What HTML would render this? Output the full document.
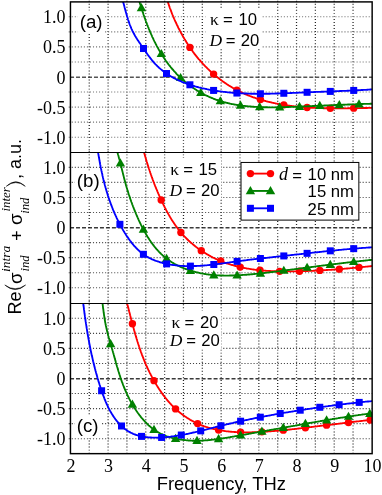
<!DOCTYPE html>
<html><head><meta charset="utf-8"><title>chart</title>
<style>html,body{margin:0;padding:0;background:#fff;}body{width:382px;height:495px;overflow:hidden;font-family:"Liberation Sans",sans-serif;}svg{display:block;will-change:transform;}</style>
</head><body>
<svg width="382" height="495" viewBox="0 0 382 495">
<rect width="382" height="495" fill="#fff"/>
<clipPath id="cpa"><rect x="70.45" y="1.9" width="301.7" height="150.6"/></clipPath>
<clipPath id="cpb"><rect x="70.45" y="152.5" width="301.7" height="151.0"/></clipPath>
<clipPath id="cpc"><rect x="70.45" y="303.5" width="301.7" height="150.14999999999998"/></clipPath>
<path d="M70.05 77.20H372.15" stroke="#555" stroke-width="1.5" stroke-dasharray="4 1.98" fill="none"/>
<path d="M70.05 227.75H372.15" stroke="#3a3a3a" stroke-width="1.5" stroke-dasharray="4 1.98" fill="none"/>
<path d="M70.05 378.70H372.15" stroke="#3a3a3a" stroke-width="1.5" stroke-dasharray="4 1.98" fill="none"/>
<path d="M89.24 0.76V152.50M108.09 0.76V152.50M126.93 0.76V152.50M145.78 0.76V152.50M164.62 0.76V152.50M183.46 0.76V152.50M202.31 0.76V152.50M221.15 0.76V152.50M239.99 0.76V152.50M258.84 0.76V152.50M277.68 0.76V152.50M296.52 0.76V152.50M315.37 0.76V152.50M334.21 0.76V152.50M353.06 0.76V152.50M89.24 151.36V303.50M108.09 151.36V303.50M126.93 151.36V303.50M145.78 151.36V303.50M164.62 151.36V303.50M183.46 151.36V303.50M202.31 151.36V303.50M221.15 151.36V303.50M239.99 151.36V303.50M258.84 151.36V303.50M277.68 151.36V303.50M296.52 151.36V303.50M315.37 151.36V303.50M334.21 151.36V303.50M353.06 151.36V303.50M89.24 301.16V453.65M108.09 301.16V453.65M126.93 301.16V453.65M145.78 301.16V453.65M164.62 301.16V453.65M183.46 301.16V453.65M202.31 301.16V453.65M221.15 301.16V453.65M239.99 301.16V453.65M258.84 301.16V453.65M277.68 301.16V453.65M296.52 301.16V453.65M315.37 301.16V453.65M334.21 301.16V453.65M353.06 301.16V453.65" stroke="#222" stroke-width="1.25" stroke-dasharray="0.95 2.08" fill="none"/>
<path d="M68.71 16.80H372.15M68.71 31.85H372.15M68.71 46.90H372.15M68.71 61.95H372.15M68.71 92.05H372.15M68.71 107.10H372.15M68.71 122.15H372.15M68.71 137.20H372.15" stroke="#777" stroke-width="1.1" stroke-dasharray="1.1 1.93" fill="none"/>
<path d="M68.71 167.35H372.15M68.71 182.40H372.15M68.71 197.45H372.15M68.71 212.50H372.15M68.71 242.60H372.15M68.71 257.65H372.15M68.71 272.70H372.15M68.71 287.75H372.15" stroke="#555" stroke-width="1.1" stroke-dasharray="1.1 1.93" fill="none"/>
<path d="M68.71 318.30H372.15M68.71 333.35H372.15M68.71 348.40H372.15M68.71 363.45H372.15M68.71 393.55H372.15M68.71 408.60H372.15M68.71 423.65H372.15M68.71 438.70H372.15" stroke="#444" stroke-width="1.1" stroke-dasharray="1.1 1.93" fill="none"/>
<rect x="77.9" y="10.5" width="26.299999999999997" height="23.200000000000003" fill="#fff"/>
<rect x="75" y="170.5" width="26.900000000000006" height="22.900000000000006" fill="#fff"/>
<rect x="75" y="415.3" width="26.099999999999994" height="22.80000000000001" fill="#fff"/>
<rect x="205.5" y="9" width="56.5" height="40" fill="#fff"/>
<rect x="166.3" y="158" width="54.89999999999998" height="41.5" fill="#fff"/>
<rect x="167" y="310.5" width="54.400000000000006" height="38.69999999999999" fill="#fff"/>
<g clip-path="url(#cpa)">
<path d="M167.7 1.5 L167.9 2.1 L168.1 2.7 L168.3 3.3 L168.5 3.9 L168.7 4.5 L168.9 5.1 L169.1 5.7 L169.3 6.3 L169.5 6.9 L169.7 7.5 L169.9 8.1 L170.1 8.6 L170.4 9.2 L170.6 9.8 L170.8 10.4 L171.0 11.0 L171.3 11.6 L171.5 12.2 L171.7 12.8 L171.9 13.4 L172.2 14.0 L172.4 14.5 L172.6 15.1 L172.9 15.7 L173.1 16.3 L173.4 16.9 L173.6 17.5 L173.9 18.1 L174.1 18.6 L174.4 19.2 L174.6 19.8 L174.9 20.4 L175.1 21.0 L175.4 21.5 L175.7 22.1 L175.9 22.7 L176.2 23.3 L176.5 23.8 L176.7 24.4 L177.0 25.0 L177.3 25.6 L177.6 26.1 L177.8 26.7 L178.1 27.3 L178.4 27.9 L178.7 28.4 L179.0 29.0 L179.3 29.6 L179.6 30.1 L179.9 30.7 L180.2 31.2 L180.5 31.8 L180.8 32.4 L181.1 32.9 L181.4 33.5 L181.7 34.1 L182.0 34.6 L182.3 35.2 L182.6 35.7 L182.9 36.3 L183.2 36.8 L183.6 37.4 L183.9 37.9 L184.2 38.5 L184.5 39.0 L184.9 39.6 L185.2 40.1 L185.5 40.7 L185.9 41.2 L186.2 41.7 L186.5 42.3 L186.9 42.8 L187.2 43.4 L187.6 43.9 L187.9 44.4 L188.3 45.0 L188.6 45.5 L189.0 46.0 L189.3 46.6 L189.7 47.1 L190.0 47.6 L190.4 48.1 L190.8 48.7 L191.1 49.2 L191.5 49.7 L191.9 50.2 L192.2 50.7 L192.6 51.2 L193.0 51.8 L193.4 52.3 L193.8 52.8 L194.1 53.3 L194.5 53.8 L194.9 54.3 L195.3 54.8 L195.7 55.3 L196.1 55.8 L196.5 56.3 L196.9 56.8 L197.3 57.3 L197.7 57.8 L198.1 58.3 L198.5 58.8 L198.9 59.3 L199.3 59.7 L199.8 60.2 L200.2 60.7 L200.6 61.2 L201.0 61.7 L201.4 62.1 L201.9 62.6 L202.3 63.1 L202.7 63.6 L203.2 64.0 L203.6 64.5 L204.0 65.0 L204.5 65.4 L204.9 65.9 L205.3 66.3 L205.8 66.8 L206.2 67.2 L206.7 67.7 L207.1 68.1 L207.6 68.6 L208.1 69.0 L208.5 69.5 L209.0 69.9 L209.4 70.3 L209.9 70.8 L210.4 71.2 L210.8 71.6 L211.3 72.1 L211.8 72.5 L212.2 72.9 L212.7 73.4 L213.2 73.8 L213.7 74.2 L214.2 74.6 L214.6 75.0 L215.1 75.4 L215.6 75.8 L216.1 76.2 L216.6 76.6 L217.1 77.0 L217.6 77.4 L218.1 77.8 L218.6 78.2 L219.1 78.6 L219.6 79.0 L220.1 79.4 L220.6 79.8 L221.1 80.1 L221.6 80.5 L222.1 80.9 L222.6 81.3 L223.2 81.6 L223.7 82.0 L224.2 82.4 L224.7 82.7 L225.2 83.1 L225.8 83.4 L226.3 83.8 L226.8 84.1 L227.3 84.5 L227.9 84.8 L228.4 85.2 L228.9 85.5 L229.5 85.9 L230.0 86.2 L230.6 86.5 L231.1 86.8 L231.6 87.2 L232.2 87.5 L232.7 87.8 L233.3 88.1 L233.8 88.4 L234.4 88.7 L234.9 89.0 L235.5 89.4 L236.0 89.7 L236.6 89.9 L237.1 90.2 L237.7 90.5 L238.3 90.8 L238.8 91.1 L239.4 91.4 L239.9 91.7 L240.5 91.9 L241.1 92.2 L241.7 92.5 L242.2 92.7 L242.8 93.0 L243.4 93.3 L243.9 93.5 L244.5 93.8 L245.1 94.0 L245.7 94.3 L246.3 94.5 L246.8 94.8 L247.4 95.0 L248.0 95.3 L248.6 95.5 L249.2 95.7 L249.8 96.0 L250.3 96.2 L250.9 96.4 L251.5 96.6 L252.1 96.8 L252.7 97.1 L253.3 97.3 L253.9 97.5 L254.5 97.7 L255.1 97.9 L255.7 98.1 L256.3 98.3 L256.9 98.5 L257.5 98.7 L258.1 98.9 L258.7 99.1 L259.3 99.3 L259.9 99.5 L260.5 99.6 L261.1 99.8 L261.7 100.0 L262.3 100.2 L262.9 100.3 L263.5 100.5 L264.2 100.7 L264.8 100.9 L265.4 101.0 L266.0 101.2 L266.6 101.3 L267.2 101.5 L267.8 101.6 L268.5 101.8 L269.1 101.9 L269.7 102.1 L270.3 102.2 L270.9 102.4 L271.6 102.5 L272.2 102.7 L272.8 102.8 L273.4 102.9 L274.0 103.1 L274.7 103.2 L275.3 103.3 L275.9 103.5 L276.5 103.6 L277.2 103.7 L277.8 103.8 L278.4 103.9 L279.0 104.1 L279.7 104.2 L280.3 104.3 L280.9 104.4 L281.6 104.5 L282.2 104.6 L282.8 104.7 L283.5 104.8 L284.1 104.9 L284.7 105.0 L285.4 105.1 L286.0 105.2 L286.6 105.3 L287.3 105.4 L287.9 105.5 L288.5 105.6 L289.2 105.7 L289.8 105.7 L290.4 105.8 L291.1 105.9 L291.7 106.0 L292.3 106.1 L293.0 106.1 L293.6 106.2 L294.2 106.3 L294.9 106.4 L295.5 106.4 L296.1 106.5 L296.8 106.6 L297.4 106.6 L298.1 106.7 L298.7 106.8 L299.3 106.8 L300.0 106.9 L300.6 106.9 L301.2 107.0 L301.9 107.0 L302.5 107.1 L303.2 107.2 L303.8 107.2 L304.4 107.3 L305.1 107.3 L305.7 107.3 L306.3 107.4 L307.0 107.4 L307.6 107.5 L308.3 107.5 L308.9 107.6 L309.5 107.6 L310.2 107.6 L310.8 107.7 L311.4 107.7 L312.1 107.7 L312.7 107.8 L313.3 107.8 L314.0 107.8 L314.6 107.9 L315.3 107.9 L315.9 107.9 L316.5 108.0 L317.2 108.0 L317.8 108.0 L318.4 108.0 L319.1 108.0 L319.7 108.1 L320.3 108.1 L321.0 108.1 L321.6 108.1 L322.2 108.1 L322.9 108.2 L323.5 108.2 L324.2 108.2 L324.8 108.2 L325.4 108.2 L326.1 108.2 L326.7 108.2 L327.3 108.2 L328.0 108.3 L328.6 108.3 L329.2 108.3 L329.9 108.3 L330.5 108.3 L331.1 108.3 L331.8 108.3 L332.4 108.3 L333.0 108.3 L333.7 108.3 L334.3 108.3 L334.9 108.3 L335.6 108.3 L336.2 108.3 L336.8 108.3 L337.5 108.3 L338.1 108.3 L338.7 108.3 L339.4 108.3 L340.0 108.3 L340.6 108.3 L341.3 108.3 L341.9 108.3 L342.5 108.3 L343.2 108.3 L343.8 108.3 L344.4 108.3 L345.1 108.3 L345.7 108.3 L346.3 108.3 L347.0 108.3 L347.6 108.3 L348.2 108.2 L348.9 108.2 L349.5 108.2 L350.1 108.2 L350.8 108.2 L351.4 108.2 L352.0 108.2 L352.7 108.2 L353.3 108.2 L353.9 108.2 L354.6 108.2 L355.2 108.1 L355.8 108.1 L356.5 108.1 L357.1 108.1 L357.7 108.1 L358.4 108.1 L359.0 108.1 L359.6 108.1 L360.2 108.1 L360.9 108.1 L361.5 108.0 L362.1 108.0 L362.8 108.0 L363.4 108.0 L364.0 108.0 L364.7 108.0 L365.3 108.0 L365.9 108.0 L366.6 108.0 L367.2 108.0 L367.8 107.9 L368.5 107.9 L369.1 107.9 L369.7 107.9 L370.4 107.9 L371.0 107.9 L371.6 107.9 L372.3 107.9" stroke="#ff0000" stroke-width="1.85" fill="none" stroke-linejoin="round"/>
<circle cx="189.90" cy="47.40" r="3.7" fill="#ff0000"/>
<circle cx="213.60" cy="74.12" r="3.7" fill="#ff0000"/>
<circle cx="236.90" cy="90.12" r="3.7" fill="#ff0000"/>
<circle cx="260.40" cy="99.61" r="3.7" fill="#ff0000"/>
<circle cx="283.80" cy="104.87" r="3.7" fill="#ff0000"/>
<circle cx="307.10" cy="107.44" r="3.7" fill="#ff0000"/>
<circle cx="330.30" cy="108.29" r="3.7" fill="#ff0000"/>
<circle cx="353.70" cy="108.17" r="3.7" fill="#ff0000"/>
<path d="M139.4 1.5 L139.6 2.2 L139.8 2.9 L140.0 3.6 L140.2 4.2 L140.5 4.9 L140.7 5.6 L140.9 6.3 L141.1 6.9 L141.3 7.6 L141.5 8.3 L141.7 9.0 L141.9 9.7 L142.2 10.3 L142.4 11.0 L142.6 11.7 L142.8 12.4 L143.1 13.0 L143.3 13.7 L143.5 14.4 L143.7 15.1 L144.0 15.8 L144.2 16.4 L144.4 17.1 L144.7 17.8 L144.9 18.5 L145.2 19.1 L145.4 19.8 L145.6 20.5 L145.9 21.2 L146.1 21.8 L146.4 22.5 L146.6 23.2 L146.9 23.9 L147.1 24.5 L147.4 25.2 L147.7 25.9 L147.9 26.5 L148.2 27.2 L148.5 27.9 L148.7 28.5 L149.0 29.2 L149.3 29.9 L149.6 30.5 L149.8 31.2 L150.1 31.9 L150.4 32.5 L150.7 33.2 L151.0 33.9 L151.3 34.5 L151.6 35.2 L151.9 35.8 L152.1 36.5 L152.4 37.2 L152.8 37.8 L153.1 38.5 L153.4 39.1 L153.7 39.8 L154.0 40.4 L154.3 41.1 L154.6 41.7 L155.0 42.4 L155.3 43.0 L155.6 43.7 L155.9 44.3 L156.3 44.9 L156.6 45.6 L156.9 46.2 L157.3 46.8 L157.6 47.5 L158.0 48.1 L158.3 48.7 L158.7 49.4 L159.0 50.0 L159.4 50.6 L159.8 51.3 L160.1 51.9 L160.5 52.5 L160.9 53.1 L161.3 53.7 L161.6 54.3 L162.0 55.0 L162.4 55.6 L162.8 56.2 L163.2 56.8 L163.6 57.4 L164.0 58.0 L164.4 58.6 L164.8 59.2 L165.2 59.8 L165.6 60.4 L166.0 61.0 L166.5 61.6 L166.9 62.1 L167.3 62.7 L167.7 63.3 L168.2 63.9 L168.6 64.5 L169.0 65.0 L169.5 65.6 L169.9 66.2 L170.4 66.7 L170.8 67.3 L171.3 67.8 L171.8 68.4 L172.2 69.0 L172.7 69.5 L173.2 70.0 L173.6 70.6 L174.1 71.1 L174.6 71.7 L175.1 72.2 L175.6 72.7 L176.1 73.3 L176.5 73.8 L177.0 74.3 L177.5 74.8 L178.0 75.3 L178.6 75.8 L179.1 76.3 L179.6 76.8 L180.1 77.3 L180.6 77.8 L181.1 78.3 L181.7 78.8 L182.2 79.3 L182.7 79.8 L183.3 80.3 L183.8 80.7 L184.4 81.2 L184.9 81.7 L185.5 82.1 L186.0 82.6 L186.6 83.0 L187.1 83.5 L187.7 83.9 L188.3 84.4 L188.8 84.8 L189.4 85.2 L190.0 85.6 L190.6 86.1 L191.1 86.5 L191.7 86.9 L192.3 87.3 L192.9 87.7 L193.5 88.1 L194.1 88.5 L194.7 88.9 L195.3 89.3 L195.9 89.7 L196.5 90.1 L197.1 90.5 L197.7 90.8 L198.3 91.2 L198.9 91.6 L199.6 91.9 L200.2 92.3 L200.8 92.6 L201.4 93.0 L202.1 93.3 L202.7 93.7 L203.3 94.0 L204.0 94.3 L204.6 94.7 L205.2 95.0 L205.9 95.3 L206.5 95.6 L207.2 95.9 L207.8 96.2 L208.5 96.5 L209.1 96.8 L209.8 97.1 L210.4 97.4 L211.1 97.7 L211.7 98.0 L212.4 98.2 L213.1 98.5 L213.7 98.8 L214.4 99.0 L215.1 99.3 L215.7 99.5 L216.4 99.8 L217.1 100.0 L217.8 100.2 L218.4 100.5 L219.1 100.7 L219.8 100.9 L220.5 101.1 L221.2 101.3 L221.8 101.5 L222.5 101.7 L223.2 101.9 L223.9 102.1 L224.6 102.3 L225.3 102.5 L226.0 102.7 L226.7 102.9 L227.4 103.0 L228.1 103.2 L228.8 103.4 L229.5 103.5 L230.2 103.7 L230.9 103.8 L231.6 104.0 L232.3 104.1 L233.0 104.2 L233.7 104.4 L234.4 104.5 L235.1 104.6 L235.8 104.7 L236.5 104.9 L237.2 105.0 L237.9 105.1 L238.6 105.2 L239.4 105.3 L240.1 105.4 L240.8 105.5 L241.5 105.6 L242.2 105.7 L242.9 105.8 L243.6 105.9 L244.4 105.9 L245.1 106.0 L245.8 106.1 L246.5 106.2 L247.2 106.2 L248.0 106.3 L248.7 106.4 L249.4 106.4 L250.1 106.5 L250.8 106.5 L251.6 106.6 L252.3 106.7 L253.0 106.7 L253.7 106.7 L254.4 106.8 L255.2 106.8 L255.9 106.9 L256.6 106.9 L257.3 106.9 L258.1 107.0 L258.8 107.0 L259.5 107.0 L260.2 107.1 L260.9 107.1 L261.7 107.1 L262.4 107.1 L263.1 107.2 L263.8 107.2 L264.6 107.2 L265.3 107.2 L266.0 107.2 L266.7 107.2 L267.4 107.2 L268.2 107.3 L268.9 107.3 L269.6 107.3 L270.3 107.3 L271.1 107.3 L271.8 107.3 L272.5 107.3 L273.2 107.3 L273.9 107.3 L274.7 107.3 L275.4 107.3 L276.1 107.3 L276.8 107.2 L277.5 107.2 L278.3 107.2 L279.0 107.2 L279.7 107.2 L280.4 107.2 L281.1 107.2 L281.9 107.2 L282.6 107.1 L283.3 107.1 L284.0 107.1 L284.7 107.1 L285.5 107.1 L286.2 107.1 L286.9 107.0 L287.6 107.0 L288.3 107.0 L289.1 107.0 L289.8 106.9 L290.5 106.9 L291.2 106.9 L291.9 106.9 L292.7 106.8 L293.4 106.8 L294.1 106.8 L294.8 106.8 L295.5 106.7 L296.3 106.7 L297.0 106.7 L297.7 106.7 L298.4 106.6 L299.1 106.6 L299.8 106.6 L300.6 106.5 L301.3 106.5 L302.0 106.5 L302.7 106.5 L303.4 106.4 L304.1 106.4 L304.9 106.4 L305.6 106.3 L306.3 106.3 L307.0 106.3 L307.7 106.2 L308.4 106.2 L309.2 106.2 L309.9 106.2 L310.6 106.1 L311.3 106.1 L312.0 106.1 L312.7 106.0 L313.5 106.0 L314.2 106.0 L314.9 105.9 L315.6 105.9 L316.3 105.9 L317.0 105.9 L317.8 105.8 L318.5 105.8 L319.2 105.8 L319.9 105.7 L320.6 105.7 L321.3 105.7 L322.1 105.6 L322.8 105.6 L323.5 105.6 L324.2 105.5 L324.9 105.5 L325.6 105.5 L326.4 105.4 L327.1 105.4 L327.8 105.4 L328.5 105.4 L329.2 105.3 L329.9 105.3 L330.7 105.3 L331.4 105.2 L332.1 105.2 L332.8 105.2 L333.5 105.1 L334.2 105.1 L334.9 105.1 L335.7 105.0 L336.4 105.0 L337.1 105.0 L337.8 105.0 L338.5 104.9 L339.2 104.9 L340.0 104.9 L340.7 104.8 L341.4 104.8 L342.1 104.8 L342.8 104.7 L343.5 104.7 L344.3 104.7 L345.0 104.7 L345.7 104.6 L346.4 104.6 L347.1 104.6 L347.9 104.5 L348.6 104.5 L349.3 104.5 L350.0 104.5 L350.7 104.4 L351.4 104.4 L352.2 104.4 L352.9 104.3 L353.6 104.3 L354.3 104.3 L355.0 104.3 L355.8 104.2 L356.5 104.2 L357.2 104.2 L357.9 104.2 L358.6 104.1 L359.3 104.1 L360.1 104.1 L360.8 104.0 L361.5 104.0 L362.2 104.0 L362.9 104.0 L363.7 103.9 L364.4 103.9 L365.1 103.9 L365.8 103.9 L366.5 103.8 L367.3 103.8 L368.0 103.8 L368.7 103.8 L369.4 103.8 L370.2 103.7 L370.9 103.7 L371.6 103.7 L372.3 103.7" stroke="#008000" stroke-width="1.85" fill="none" stroke-linejoin="round"/>
<path d="M141.40 3.05L146.10 11.25H136.70Z" fill="#008000"/>
<path d="M161.30 48.90L166.00 57.10H156.60Z" fill="#008000"/>
<path d="M180.60 72.92L185.30 81.12H175.90Z" fill="#008000"/>
<path d="M200.80 87.74L205.50 95.94H196.10Z" fill="#008000"/>
<path d="M220.30 96.17L225.00 104.37H215.60Z" fill="#008000"/>
<path d="M240.50 100.56L245.20 108.76H235.80Z" fill="#008000"/>
<path d="M259.70 102.15L264.40 110.35H255.00Z" fill="#008000"/>
<path d="M279.60 102.31L284.30 110.51H274.90Z" fill="#008000"/>
<path d="M299.50 101.68L304.20 109.88H294.80Z" fill="#008000"/>
<path d="M319.80 100.83L324.50 109.03H315.10Z" fill="#008000"/>
<path d="M339.30 99.99L344.00 108.19H334.60Z" fill="#008000"/>
<path d="M359.00 99.21L363.70 107.41H354.30Z" fill="#008000"/>
<path d="M123.0 1.5 L123.2 2.2 L123.4 2.9 L123.6 3.6 L123.8 4.3 L124.0 5.0 L124.2 5.7 L124.4 6.5 L124.6 7.2 L124.7 7.9 L124.9 8.6 L125.1 9.3 L125.3 10.0 L125.5 10.8 L125.7 11.5 L125.9 12.2 L126.1 12.9 L126.3 13.6 L126.5 14.3 L126.7 15.1 L126.9 15.8 L127.1 16.5 L127.4 17.2 L127.6 17.9 L127.8 18.6 L128.0 19.4 L128.2 20.1 L128.5 20.8 L128.7 21.5 L128.9 22.2 L129.2 22.9 L129.4 23.6 L129.7 24.3 L129.9 25.0 L130.2 25.7 L130.5 26.3 L130.8 27.0 L131.0 27.7 L131.3 28.4 L131.6 29.1 L131.9 29.7 L132.2 30.4 L132.5 31.0 L132.9 31.7 L133.2 32.3 L133.5 33.0 L133.9 33.6 L134.2 34.3 L134.6 34.9 L134.9 35.5 L135.3 36.2 L135.7 36.8 L136.0 37.4 L136.4 38.0 L136.8 38.6 L137.2 39.3 L137.6 39.9 L138.0 40.5 L138.4 41.1 L138.8 41.7 L139.2 42.3 L139.6 42.9 L140.1 43.5 L140.5 44.1 L140.9 44.8 L141.3 45.4 L141.7 46.0 L142.2 46.6 L142.6 47.2 L143.0 47.8 L143.5 48.4 L143.9 49.1 L144.3 49.7 L144.7 50.3 L145.2 50.9 L145.6 51.6 L146.0 52.2 L146.5 52.8 L146.9 53.4 L147.3 54.0 L147.8 54.7 L148.2 55.3 L148.7 55.9 L149.1 56.5 L149.6 57.1 L150.0 57.7 L150.5 58.3 L151.0 58.9 L151.4 59.5 L151.9 60.1 L152.4 60.7 L152.9 61.3 L153.3 61.8 L153.8 62.4 L154.3 63.0 L154.8 63.5 L155.3 64.1 L155.9 64.6 L156.4 65.1 L156.9 65.6 L157.4 66.2 L158.0 66.7 L158.5 67.2 L159.0 67.7 L159.6 68.2 L160.1 68.6 L160.7 69.1 L161.3 69.6 L161.8 70.0 L162.4 70.5 L163.0 71.0 L163.6 71.4 L164.1 71.8 L164.7 72.3 L165.3 72.7 L165.9 73.1 L166.5 73.5 L167.1 73.9 L167.7 74.3 L168.3 74.7 L168.9 75.1 L169.6 75.5 L170.2 75.9 L170.8 76.3 L171.4 76.6 L172.1 77.0 L172.7 77.4 L173.3 77.7 L174.0 78.1 L174.6 78.4 L175.3 78.7 L175.9 79.1 L176.6 79.4 L177.2 79.7 L177.9 80.0 L178.6 80.3 L179.2 80.6 L179.9 80.9 L180.6 81.2 L181.3 81.5 L181.9 81.8 L182.6 82.1 L183.3 82.4 L184.0 82.7 L184.7 82.9 L185.4 83.2 L186.1 83.4 L186.7 83.7 L187.4 83.9 L188.1 84.2 L188.8 84.4 L189.5 84.7 L190.3 84.9 L191.0 85.1 L191.7 85.4 L192.4 85.6 L193.1 85.8 L193.8 86.0 L194.5 86.2 L195.2 86.4 L196.0 86.6 L196.7 86.8 L197.4 87.0 L198.1 87.2 L198.8 87.4 L199.6 87.6 L200.3 87.7 L201.0 87.9 L201.7 88.1 L202.5 88.3 L203.2 88.4 L203.9 88.6 L204.7 88.7 L205.4 88.9 L206.1 89.0 L206.9 89.2 L207.6 89.3 L208.3 89.5 L209.1 89.6 L209.8 89.8 L210.5 89.9 L211.3 90.0 L212.0 90.2 L212.7 90.3 L213.5 90.4 L214.2 90.5 L215.0 90.6 L215.7 90.8 L216.4 90.9 L217.2 91.0 L217.9 91.1 L218.6 91.2 L219.4 91.3 L220.1 91.4 L220.9 91.5 L221.6 91.6 L222.3 91.7 L223.1 91.8 L223.8 91.9 L224.5 91.9 L225.3 92.0 L226.0 92.1 L226.7 92.2 L227.5 92.3 L228.2 92.3 L229.0 92.4 L229.7 92.5 L230.4 92.5 L231.2 92.6 L231.9 92.7 L232.6 92.7 L233.4 92.8 L234.1 92.9 L234.9 92.9 L235.6 93.0 L236.3 93.0 L237.1 93.1 L237.8 93.1 L238.5 93.2 L239.3 93.2 L240.0 93.2 L240.8 93.3 L241.5 93.3 L242.2 93.4 L243.0 93.4 L243.7 93.4 L244.4 93.5 L245.2 93.5 L245.9 93.5 L246.7 93.5 L247.4 93.6 L248.1 93.6 L248.9 93.6 L249.6 93.6 L250.4 93.7 L251.1 93.7 L251.8 93.7 L252.6 93.7 L253.3 93.7 L254.0 93.7 L254.8 93.7 L255.5 93.7 L256.3 93.8 L257.0 93.8 L257.7 93.8 L258.5 93.8 L259.2 93.8 L259.9 93.8 L260.7 93.8 L261.4 93.8 L262.2 93.8 L262.9 93.8 L263.6 93.8 L264.4 93.7 L265.1 93.7 L265.9 93.7 L266.6 93.7 L267.3 93.7 L268.1 93.7 L268.8 93.7 L269.5 93.7 L270.3 93.7 L271.0 93.6 L271.8 93.6 L272.5 93.6 L273.2 93.6 L274.0 93.6 L274.7 93.6 L275.5 93.5 L276.2 93.5 L276.9 93.5 L277.7 93.5 L278.4 93.5 L279.2 93.4 L279.9 93.4 L280.6 93.4 L281.4 93.4 L282.1 93.3 L282.8 93.3 L283.6 93.3 L284.3 93.3 L285.1 93.2 L285.8 93.2 L286.5 93.2 L287.3 93.1 L288.0 93.1 L288.8 93.1 L289.5 93.1 L290.2 93.0 L291.0 93.0 L291.7 93.0 L292.5 92.9 L293.2 92.9 L293.9 92.9 L294.7 92.8 L295.4 92.8 L296.2 92.8 L296.9 92.7 L297.6 92.7 L298.4 92.7 L299.1 92.6 L299.9 92.6 L300.6 92.6 L301.3 92.6 L302.1 92.5 L302.8 92.5 L303.5 92.5 L304.3 92.4 L305.0 92.4 L305.8 92.4 L306.5 92.3 L307.2 92.3 L308.0 92.3 L308.7 92.2 L309.5 92.2 L310.2 92.2 L310.9 92.1 L311.7 92.1 L312.4 92.1 L313.2 92.1 L313.9 92.0 L314.6 92.0 L315.4 92.0 L316.1 91.9 L316.9 91.9 L317.6 91.9 L318.3 91.9 L319.1 91.8 L319.8 91.8 L320.6 91.8 L321.3 91.7 L322.0 91.7 L322.8 91.7 L323.5 91.7 L324.3 91.6 L325.0 91.6 L325.7 91.6 L326.5 91.6 L327.2 91.5 L328.0 91.5 L328.7 91.5 L329.4 91.4 L330.2 91.4 L330.9 91.4 L331.7 91.4 L332.4 91.3 L333.1 91.3 L333.9 91.3 L334.6 91.2 L335.4 91.2 L336.1 91.2 L336.8 91.2 L337.6 91.1 L338.3 91.1 L339.1 91.1 L339.8 91.0 L340.5 91.0 L341.3 91.0 L342.0 90.9 L342.8 90.9 L343.5 90.9 L344.2 90.9 L345.0 90.8 L345.7 90.8 L346.5 90.8 L347.2 90.7 L347.9 90.7 L348.7 90.7 L349.4 90.6 L350.1 90.6 L350.9 90.6 L351.6 90.5 L352.4 90.5 L353.1 90.5 L353.8 90.4 L354.6 90.4 L355.3 90.3 L356.1 90.3 L356.8 90.3 L357.5 90.2 L358.3 90.2 L359.0 90.2 L359.8 90.1 L360.5 90.1 L361.2 90.0 L362.0 90.0 L362.7 90.0 L363.4 89.9 L364.2 89.9 L364.9 89.8 L365.7 89.8 L366.4 89.8 L367.1 89.7 L367.9 89.7 L368.6 89.6 L369.3 89.6 L370.1 89.5 L370.8 89.5 L371.6 89.4 L372.3 89.4" stroke="#0000ff" stroke-width="1.85" fill="none" stroke-linejoin="round"/>
<rect x="140.00" y="45.01" width="7" height="7" fill="#0000ff"/>
<rect x="163.00" y="70.02" width="7" height="7" fill="#0000ff"/>
<rect x="186.40" y="81.28" width="7" height="7" fill="#0000ff"/>
<rect x="210.10" y="86.92" width="7" height="7" fill="#0000ff"/>
<rect x="233.40" y="89.55" width="7" height="7" fill="#0000ff"/>
<rect x="256.90" y="90.27" width="7" height="7" fill="#0000ff"/>
<rect x="280.30" y="89.77" width="7" height="7" fill="#0000ff"/>
<rect x="303.60" y="88.80" width="7" height="7" fill="#0000ff"/>
<rect x="326.80" y="87.91" width="7" height="7" fill="#0000ff"/>
<rect x="350.20" y="86.93" width="7" height="7" fill="#0000ff"/>
</g>
<g clip-path="url(#cpb)">
<path d="M144.0 152.2 L144.2 152.9 L144.4 153.6 L144.6 154.3 L144.8 155.0 L145.0 155.7 L145.2 156.4 L145.4 157.1 L145.6 157.8 L145.8 158.5 L146.0 159.2 L146.2 159.9 L146.4 160.6 L146.6 161.3 L146.8 162.0 L147.1 162.7 L147.3 163.4 L147.5 164.1 L147.7 164.8 L147.9 165.5 L148.1 166.2 L148.4 166.9 L148.6 167.6 L148.8 168.3 L149.0 169.0 L149.3 169.7 L149.5 170.3 L149.7 171.0 L150.0 171.7 L150.2 172.4 L150.4 173.1 L150.7 173.8 L150.9 174.5 L151.2 175.2 L151.4 175.9 L151.6 176.6 L151.9 177.2 L152.1 177.9 L152.4 178.6 L152.6 179.3 L152.9 180.0 L153.1 180.7 L153.4 181.4 L153.6 182.0 L153.9 182.7 L154.2 183.4 L154.4 184.1 L154.7 184.8 L155.0 185.5 L155.2 186.1 L155.5 186.8 L155.8 187.5 L156.0 188.2 L156.3 188.8 L156.6 189.5 L156.9 190.2 L157.2 190.9 L157.4 191.5 L157.7 192.2 L158.0 192.9 L158.3 193.6 L158.6 194.2 L158.9 194.9 L159.2 195.6 L159.5 196.2 L159.8 196.9 L160.1 197.6 L160.4 198.2 L160.7 198.9 L161.0 199.5 L161.3 200.2 L161.6 200.9 L161.9 201.5 L162.2 202.2 L162.6 202.8 L162.9 203.5 L163.2 204.2 L163.5 204.8 L163.8 205.5 L164.2 206.1 L164.5 206.8 L164.8 207.4 L165.2 208.1 L165.5 208.7 L165.8 209.4 L166.2 210.0 L166.5 210.7 L166.9 211.3 L167.2 211.9 L167.6 212.6 L167.9 213.2 L168.3 213.9 L168.7 214.5 L169.0 215.1 L169.4 215.8 L169.7 216.4 L170.1 217.0 L170.5 217.7 L170.9 218.3 L171.2 218.9 L171.6 219.5 L172.0 220.2 L172.4 220.8 L172.8 221.4 L173.2 222.0 L173.6 222.6 L174.0 223.2 L174.4 223.8 L174.8 224.4 L175.2 225.0 L175.6 225.6 L176.1 226.2 L176.5 226.8 L176.9 227.4 L177.4 228.0 L177.8 228.6 L178.2 229.2 L178.7 229.7 L179.1 230.3 L179.6 230.9 L180.1 231.4 L180.5 232.0 L181.0 232.6 L181.5 233.1 L181.9 233.7 L182.4 234.2 L182.9 234.8 L183.4 235.3 L183.9 235.8 L184.4 236.4 L184.9 236.9 L185.4 237.4 L185.9 237.9 L186.4 238.5 L187.0 239.0 L187.5 239.5 L188.0 240.0 L188.5 240.5 L189.1 241.0 L189.6 241.5 L190.2 242.0 L190.7 242.5 L191.3 242.9 L191.8 243.4 L192.4 243.9 L192.9 244.4 L193.5 244.8 L194.1 245.3 L194.6 245.8 L195.2 246.2 L195.8 246.7 L196.4 247.1 L197.0 247.6 L197.5 248.0 L198.1 248.4 L198.7 248.9 L199.3 249.3 L199.9 249.7 L200.5 250.1 L201.1 250.5 L201.7 250.9 L202.4 251.4 L203.0 251.8 L203.6 252.2 L204.2 252.5 L204.8 252.9 L205.5 253.3 L206.1 253.7 L206.7 254.1 L207.3 254.4 L208.0 254.8 L208.6 255.2 L209.3 255.5 L209.9 255.9 L210.5 256.2 L211.2 256.6 L211.8 256.9 L212.5 257.3 L213.1 257.6 L213.8 257.9 L214.5 258.2 L215.1 258.6 L215.8 258.9 L216.4 259.2 L217.1 259.5 L217.8 259.8 L218.4 260.1 L219.1 260.4 L219.8 260.6 L220.4 260.9 L221.1 261.2 L221.8 261.5 L222.5 261.7 L223.1 262.0 L223.8 262.3 L224.5 262.5 L225.2 262.8 L225.9 263.0 L226.6 263.3 L227.2 263.5 L227.9 263.7 L228.6 263.9 L229.3 264.2 L230.0 264.4 L230.7 264.6 L231.4 264.8 L232.1 265.0 L232.8 265.2 L233.5 265.4 L234.2 265.6 L234.9 265.8 L235.6 266.0 L236.3 266.2 L237.0 266.4 L237.7 266.5 L238.4 266.7 L239.1 266.9 L239.8 267.0 L240.5 267.2 L241.2 267.3 L241.9 267.5 L242.6 267.6 L243.3 267.8 L244.1 267.9 L244.8 268.1 L245.5 268.2 L246.2 268.3 L246.9 268.5 L247.6 268.6 L248.4 268.7 L249.1 268.8 L249.8 268.9 L250.5 269.1 L251.2 269.2 L252.0 269.3 L252.7 269.4 L253.4 269.5 L254.1 269.6 L254.8 269.7 L255.6 269.8 L256.3 269.8 L257.0 269.9 L257.8 270.0 L258.5 270.1 L259.2 270.2 L259.9 270.2 L260.7 270.3 L261.4 270.4 L262.1 270.5 L262.9 270.5 L263.6 270.6 L264.3 270.6 L265.1 270.7 L265.8 270.7 L266.5 270.8 L267.2 270.8 L268.0 270.9 L268.7 270.9 L269.4 271.0 L270.2 271.0 L270.9 271.1 L271.7 271.1 L272.4 271.1 L273.1 271.2 L273.9 271.2 L274.6 271.2 L275.3 271.2 L276.1 271.3 L276.8 271.3 L277.5 271.3 L278.3 271.3 L279.0 271.3 L279.7 271.4 L280.5 271.4 L281.2 271.4 L282.0 271.4 L282.7 271.4 L283.4 271.4 L284.2 271.4 L284.9 271.4 L285.6 271.4 L286.4 271.4 L287.1 271.4 L287.9 271.4 L288.6 271.4 L289.3 271.4 L290.1 271.4 L290.8 271.4 L291.5 271.4 L292.3 271.4 L293.0 271.4 L293.7 271.4 L294.5 271.3 L295.2 271.3 L295.9 271.3 L296.7 271.3 L297.4 271.3 L298.1 271.3 L298.9 271.2 L299.6 271.2 L300.3 271.2 L301.1 271.2 L301.8 271.2 L302.5 271.1 L303.3 271.1 L304.0 271.1 L304.7 271.1 L305.5 271.0 L306.2 271.0 L306.9 271.0 L307.6 271.0 L308.4 270.9 L309.1 270.9 L309.8 270.9 L310.5 270.9 L311.3 270.8 L312.0 270.8 L312.7 270.8 L313.5 270.7 L314.2 270.7 L314.9 270.7 L315.6 270.6 L316.4 270.6 L317.1 270.6 L317.8 270.5 L318.5 270.5 L319.3 270.4 L320.0 270.4 L320.7 270.4 L321.4 270.3 L322.2 270.3 L322.9 270.2 L323.6 270.2 L324.3 270.2 L325.1 270.1 L325.8 270.1 L326.5 270.0 L327.2 270.0 L328.0 269.9 L328.7 269.9 L329.4 269.8 L330.1 269.8 L330.8 269.8 L331.6 269.7 L332.3 269.7 L333.0 269.6 L333.7 269.6 L334.5 269.5 L335.2 269.4 L335.9 269.4 L336.6 269.3 L337.4 269.3 L338.1 269.2 L338.8 269.2 L339.5 269.1 L340.3 269.1 L341.0 269.0 L341.7 268.9 L342.4 268.9 L343.2 268.8 L343.9 268.8 L344.6 268.7 L345.3 268.6 L346.0 268.6 L346.8 268.5 L347.5 268.5 L348.2 268.4 L349.0 268.3 L349.7 268.3 L350.4 268.2 L351.1 268.1 L351.9 268.1 L352.6 268.0 L353.3 267.9 L354.0 267.9 L354.8 267.8 L355.5 267.7 L356.2 267.7 L357.0 267.6 L357.7 267.5 L358.4 267.5 L359.1 267.4 L359.9 267.3 L360.6 267.2 L361.3 267.2 L362.1 267.1 L362.8 267.0 L363.5 266.9 L364.3 266.9 L365.0 266.8 L365.7 266.7 L366.5 266.6 L367.2 266.6 L367.9 266.5 L368.7 266.4 L369.4 266.3 L370.1 266.2 L370.9 266.2 L371.6 266.1 L372.3 266.0" stroke="#ff0000" stroke-width="1.85" fill="none" stroke-linejoin="round"/>
<circle cx="161.20" cy="200.00" r="3.7" fill="#ff0000"/>
<circle cx="180.90" cy="232.46" r="3.7" fill="#ff0000"/>
<circle cx="201.30" cy="250.65" r="3.7" fill="#ff0000"/>
<circle cx="220.70" cy="261.03" r="3.7" fill="#ff0000"/>
<circle cx="240.20" cy="267.12" r="3.7" fill="#ff0000"/>
<circle cx="260.00" cy="270.25" r="3.7" fill="#ff0000"/>
<circle cx="279.60" cy="271.35" r="3.7" fill="#ff0000"/>
<circle cx="299.50" cy="271.23" r="3.7" fill="#ff0000"/>
<circle cx="319.80" cy="270.42" r="3.7" fill="#ff0000"/>
<circle cx="339.30" cy="269.14" r="3.7" fill="#ff0000"/>
<circle cx="359.00" cy="267.39" r="3.7" fill="#ff0000"/>
<path d="M117.3 152.1 L117.6 152.9 L117.8 153.7 L118.0 154.5 L118.3 155.3 L118.5 156.1 L118.7 156.9 L118.9 157.7 L119.1 158.5 L119.4 159.3 L119.6 160.1 L119.8 160.9 L120.0 161.7 L120.2 162.5 L120.4 163.3 L120.6 164.1 L120.8 164.9 L121.0 165.7 L121.2 166.5 L121.4 167.3 L121.6 168.1 L121.8 168.9 L122.0 169.7 L122.2 170.5 L122.4 171.3 L122.6 172.1 L122.8 172.9 L123.0 173.7 L123.2 174.5 L123.4 175.3 L123.6 176.1 L123.8 176.9 L124.0 177.7 L124.2 178.5 L124.4 179.3 L124.6 180.1 L124.8 180.9 L125.1 181.7 L125.3 182.5 L125.5 183.3 L125.7 184.1 L125.9 184.9 L126.1 185.7 L126.4 186.5 L126.6 187.2 L126.8 188.0 L127.1 188.8 L127.3 189.6 L127.5 190.4 L127.8 191.1 L128.0 191.9 L128.3 192.7 L128.5 193.5 L128.8 194.2 L129.0 195.0 L129.3 195.8 L129.5 196.6 L129.8 197.3 L130.0 198.1 L130.3 198.9 L130.6 199.6 L130.8 200.4 L131.1 201.2 L131.4 202.0 L131.7 202.7 L132.0 203.5 L132.2 204.3 L132.5 205.0 L132.8 205.8 L133.1 206.6 L133.4 207.3 L133.7 208.1 L134.0 208.9 L134.3 209.6 L134.6 210.4 L134.9 211.2 L135.2 211.9 L135.6 212.7 L135.9 213.5 L136.2 214.2 L136.5 215.0 L136.8 215.8 L137.2 216.5 L137.5 217.3 L137.9 218.1 L138.2 218.8 L138.5 219.6 L138.9 220.4 L139.2 221.1 L139.6 221.9 L139.9 222.7 L140.3 223.4 L140.7 224.2 L141.0 224.9 L141.4 225.7 L141.8 226.4 L142.2 227.2 L142.6 227.9 L143.0 228.7 L143.3 229.4 L143.7 230.2 L144.2 230.9 L144.6 231.6 L145.0 232.4 L145.4 233.1 L145.8 233.8 L146.2 234.6 L146.7 235.3 L147.1 236.0 L147.5 236.7 L148.0 237.4 L148.4 238.1 L148.9 238.8 L149.3 239.5 L149.8 240.2 L150.3 240.9 L150.7 241.6 L151.2 242.3 L151.7 242.9 L152.2 243.6 L152.7 244.3 L153.2 244.9 L153.7 245.6 L154.2 246.2 L154.7 246.9 L155.2 247.5 L155.7 248.1 L156.3 248.8 L156.8 249.4 L157.4 250.0 L157.9 250.6 L158.5 251.2 L159.0 251.8 L159.6 252.4 L160.2 253.0 L160.7 253.5 L161.3 254.1 L161.9 254.6 L162.5 255.2 L163.1 255.7 L163.7 256.3 L164.3 256.8 L165.0 257.3 L165.6 257.8 L166.2 258.3 L166.9 258.8 L167.5 259.3 L168.2 259.8 L168.8 260.3 L169.5 260.7 L170.2 261.2 L170.9 261.6 L171.5 262.1 L172.2 262.5 L172.9 262.9 L173.6 263.3 L174.3 263.8 L175.1 264.2 L175.8 264.5 L176.5 264.9 L177.2 265.3 L178.0 265.7 L178.7 266.0 L179.5 266.4 L180.2 266.7 L181.0 267.1 L181.7 267.4 L182.5 267.7 L183.2 268.0 L184.0 268.4 L184.8 268.7 L185.5 269.0 L186.3 269.2 L187.1 269.5 L187.9 269.8 L188.7 270.1 L189.5 270.3 L190.3 270.6 L191.1 270.8 L191.9 271.1 L192.7 271.3 L193.5 271.5 L194.3 271.7 L195.1 272.0 L195.9 272.2 L196.7 272.4 L197.5 272.5 L198.4 272.7 L199.2 272.9 L200.0 273.1 L200.8 273.3 L201.6 273.4 L202.5 273.6 L203.3 273.7 L204.1 273.9 L205.0 274.0 L205.8 274.1 L206.6 274.3 L207.4 274.4 L208.3 274.5 L209.1 274.6 L209.9 274.7 L210.8 274.8 L211.6 274.9 L212.4 275.0 L213.3 275.0 L214.1 275.1 L214.9 275.2 L215.7 275.2 L216.6 275.3 L217.4 275.3 L218.2 275.4 L219.0 275.4 L219.9 275.5 L220.7 275.5 L221.5 275.5 L222.3 275.5 L223.2 275.5 L224.0 275.6 L224.8 275.6 L225.6 275.6 L226.5 275.6 L227.3 275.6 L228.1 275.6 L228.9 275.6 L229.7 275.5 L230.6 275.5 L231.4 275.5 L232.2 275.5 L233.0 275.5 L233.8 275.4 L234.7 275.4 L235.5 275.4 L236.3 275.3 L237.1 275.3 L237.9 275.2 L238.8 275.2 L239.6 275.2 L240.4 275.1 L241.2 275.1 L242.1 275.0 L242.9 274.9 L243.7 274.9 L244.5 274.8 L245.3 274.8 L246.2 274.7 L247.0 274.7 L247.8 274.6 L248.6 274.5 L249.4 274.5 L250.3 274.4 L251.1 274.3 L251.9 274.2 L252.7 274.2 L253.5 274.1 L254.4 274.0 L255.2 273.9 L256.0 273.9 L256.8 273.8 L257.6 273.7 L258.5 273.6 L259.3 273.5 L260.1 273.4 L260.9 273.3 L261.7 273.3 L262.6 273.2 L263.4 273.1 L264.2 273.0 L265.0 272.9 L265.8 272.8 L266.7 272.7 L267.5 272.6 L268.3 272.5 L269.1 272.4 L269.9 272.3 L270.8 272.2 L271.6 272.1 L272.4 272.0 L273.2 271.9 L274.0 271.8 L274.8 271.7 L275.7 271.6 L276.5 271.5 L277.3 271.4 L278.1 271.3 L278.9 271.2 L279.8 271.1 L280.6 271.0 L281.4 270.9 L282.2 270.8 L283.0 270.7 L283.9 270.6 L284.7 270.5 L285.5 270.4 L286.3 270.2 L287.1 270.1 L288.0 270.0 L288.8 269.9 L289.6 269.8 L290.4 269.7 L291.2 269.6 L292.0 269.5 L292.9 269.4 L293.7 269.3 L294.5 269.2 L295.3 269.1 L296.1 269.0 L297.0 268.9 L297.8 268.8 L298.6 268.7 L299.4 268.6 L300.2 268.4 L301.1 268.3 L301.9 268.2 L302.7 268.1 L303.5 268.0 L304.3 267.9 L305.1 267.8 L306.0 267.7 L306.8 267.6 L307.6 267.5 L308.4 267.4 L309.2 267.3 L310.1 267.2 L310.9 267.1 L311.7 267.0 L312.5 266.9 L313.3 266.8 L314.1 266.7 L315.0 266.6 L315.8 266.4 L316.6 266.3 L317.4 266.2 L318.2 266.1 L319.1 266.0 L319.9 265.9 L320.7 265.8 L321.5 265.7 L322.3 265.6 L323.1 265.5 L324.0 265.4 L324.8 265.3 L325.6 265.2 L326.4 265.1 L327.2 265.0 L328.1 264.9 L328.9 264.8 L329.7 264.7 L330.5 264.6 L331.3 264.5 L332.1 264.4 L333.0 264.3 L333.8 264.2 L334.6 264.1 L335.4 264.0 L336.2 263.9 L337.1 263.8 L337.9 263.7 L338.7 263.6 L339.5 263.5 L340.3 263.4 L341.1 263.3 L342.0 263.2 L342.8 263.1 L343.6 263.0 L344.4 262.9 L345.2 262.8 L346.1 262.7 L346.9 262.6 L347.7 262.5 L348.5 262.4 L349.3 262.3 L350.2 262.2 L351.0 262.1 L351.8 262.0 L352.6 261.9 L353.4 261.8 L354.3 261.8 L355.1 261.7 L355.9 261.6 L356.7 261.5 L357.5 261.4 L358.4 261.3 L359.2 261.2 L360.0 261.1 L360.8 261.0 L361.6 260.9 L362.5 260.8 L363.3 260.7 L364.1 260.7 L364.9 260.6 L365.7 260.5 L366.6 260.4 L367.4 260.3 L368.2 260.2 L369.0 260.1 L369.8 260.0 L370.7 260.0 L371.5 259.9 L372.3 259.8" stroke="#008000" stroke-width="1.85" fill="none" stroke-linejoin="round"/>
<path d="M120.40 158.34L125.10 166.54H115.70Z" fill="#008000"/>
<path d="M143.40 224.62L148.10 232.82H138.70Z" fill="#008000"/>
<path d="M166.60 253.73L171.30 261.93H161.90Z" fill="#008000"/>
<path d="M190.40 265.72L195.10 273.92H185.70Z" fill="#008000"/>
<path d="M213.80 270.18L218.50 278.38H209.10Z" fill="#008000"/>
<path d="M237.10 270.38L241.80 278.58H232.40Z" fill="#008000"/>
<path d="M260.40 268.50L265.10 276.70H255.70Z" fill="#008000"/>
<path d="M283.80 265.67L288.50 273.87H279.10Z" fill="#008000"/>
<path d="M307.10 262.66L311.80 270.86H302.40Z" fill="#008000"/>
<path d="M330.30 259.72L335.00 267.92H325.60Z" fill="#008000"/>
<path d="M353.70 256.92L358.40 265.12H349.00Z" fill="#008000"/>
<path d="M98.1 152.2 L98.2 153.0 L98.3 153.9 L98.5 154.7 L98.6 155.6 L98.8 156.5 L98.9 157.3 L99.1 158.2 L99.2 159.0 L99.4 159.9 L99.5 160.8 L99.7 161.6 L99.8 162.5 L100.0 163.3 L100.1 164.2 L100.3 165.0 L100.5 165.9 L100.6 166.7 L100.8 167.6 L101.0 168.5 L101.2 169.3 L101.3 170.2 L101.5 171.0 L101.7 171.8 L101.9 172.7 L102.1 173.5 L102.3 174.4 L102.4 175.2 L102.6 176.1 L102.8 176.9 L103.0 177.8 L103.2 178.6 L103.4 179.5 L103.6 180.3 L103.8 181.1 L104.1 182.0 L104.3 182.8 L104.5 183.6 L104.7 184.5 L104.9 185.3 L105.2 186.2 L105.4 187.0 L105.6 187.8 L105.9 188.7 L106.1 189.5 L106.3 190.3 L106.6 191.1 L106.8 192.0 L107.1 192.8 L107.3 193.6 L107.6 194.4 L107.8 195.3 L108.1 196.1 L108.4 196.9 L108.6 197.7 L108.9 198.5 L109.2 199.4 L109.5 200.2 L109.8 201.0 L110.1 201.8 L110.3 202.6 L110.6 203.4 L110.9 204.2 L111.2 205.0 L111.6 205.9 L111.9 206.7 L112.2 207.5 L112.5 208.3 L112.8 209.1 L113.1 209.9 L113.5 210.7 L113.8 211.5 L114.2 212.3 L114.5 213.1 L114.8 213.9 L115.2 214.7 L115.5 215.4 L115.9 216.2 L116.3 217.0 L116.6 217.8 L117.0 218.6 L117.4 219.4 L117.8 220.2 L118.2 220.9 L118.6 221.7 L119.0 222.5 L119.4 223.3 L119.8 224.0 L120.2 224.8 L120.6 225.6 L121.0 226.4 L121.4 227.1 L121.9 227.9 L122.3 228.7 L122.7 229.4 L123.2 230.2 L123.6 230.9 L124.1 231.7 L124.5 232.4 L125.0 233.2 L125.5 233.9 L125.9 234.7 L126.4 235.4 L126.9 236.2 L127.4 236.9 L127.9 237.6 L128.4 238.3 L128.9 239.1 L129.4 239.8 L129.9 240.5 L130.5 241.2 L131.0 241.9 L131.5 242.6 L132.1 243.3 L132.6 244.0 L133.2 244.6 L133.7 245.3 L134.3 246.0 L134.9 246.6 L135.5 247.2 L136.1 247.9 L136.7 248.5 L137.3 249.1 L137.9 249.7 L138.5 250.3 L139.2 250.9 L139.8 251.5 L140.5 252.0 L141.1 252.6 L141.8 253.1 L142.5 253.6 L143.2 254.1 L143.9 254.6 L144.6 255.1 L145.3 255.6 L146.0 256.0 L146.8 256.5 L147.5 256.9 L148.3 257.3 L149.0 257.8 L149.8 258.1 L150.6 258.5 L151.3 258.9 L152.1 259.3 L152.9 259.6 L153.7 259.9 L154.5 260.3 L155.3 260.6 L156.1 260.9 L157.0 261.2 L157.8 261.5 L158.6 261.7 L159.4 262.0 L160.3 262.3 L161.1 262.5 L161.9 262.7 L162.8 263.0 L163.6 263.2 L164.5 263.4 L165.3 263.6 L166.2 263.8 L167.0 264.0 L167.9 264.1 L168.7 264.3 L169.6 264.5 L170.4 264.6 L171.3 264.8 L172.1 264.9 L173.0 265.0 L173.8 265.1 L174.7 265.2 L175.6 265.4 L176.4 265.4 L177.3 265.5 L178.1 265.6 L179.0 265.7 L179.8 265.8 L180.7 265.8 L181.6 265.9 L182.4 265.9 L183.3 266.0 L184.1 266.0 L185.0 266.1 L185.9 266.1 L186.7 266.1 L187.6 266.1 L188.5 266.1 L189.3 266.1 L190.2 266.1 L191.0 266.1 L191.9 266.1 L192.8 266.1 L193.6 266.1 L194.5 266.0 L195.4 266.0 L196.2 266.0 L197.1 265.9 L198.0 265.9 L198.8 265.9 L199.7 265.8 L200.6 265.7 L201.4 265.7 L202.3 265.6 L203.2 265.6 L204.1 265.5 L204.9 265.4 L205.8 265.3 L206.7 265.3 L207.5 265.2 L208.4 265.1 L209.3 265.0 L210.1 264.9 L211.0 264.8 L211.9 264.7 L212.7 264.6 L213.6 264.5 L214.5 264.4 L215.4 264.3 L216.2 264.2 L217.1 264.1 L218.0 264.0 L218.8 263.9 L219.7 263.8 L220.6 263.6 L221.4 263.5 L222.3 263.4 L223.2 263.3 L224.0 263.2 L224.9 263.1 L225.8 262.9 L226.6 262.8 L227.5 262.7 L228.4 262.6 L229.2 262.5 L230.1 262.3 L231.0 262.2 L231.8 262.1 L232.7 262.0 L233.6 261.9 L234.4 261.7 L235.3 261.6 L236.2 261.5 L237.0 261.4 L237.9 261.3 L238.8 261.1 L239.6 261.0 L240.5 260.9 L241.3 260.8 L242.2 260.7 L243.1 260.6 L243.9 260.5 L244.8 260.4 L245.6 260.3 L246.5 260.2 L247.4 260.0 L248.2 259.9 L249.1 259.8 L249.9 259.7 L250.8 259.6 L251.7 259.5 L252.5 259.4 L253.4 259.3 L254.2 259.2 L255.1 259.1 L255.9 259.0 L256.8 258.9 L257.7 258.8 L258.5 258.7 L259.4 258.6 L260.2 258.5 L261.1 258.4 L261.9 258.3 L262.8 258.2 L263.7 258.1 L264.5 258.0 L265.4 258.0 L266.2 257.9 L267.1 257.8 L267.9 257.7 L268.8 257.6 L269.6 257.5 L270.5 257.4 L271.4 257.3 L272.2 257.2 L273.1 257.1 L273.9 257.0 L274.8 256.9 L275.6 256.8 L276.5 256.7 L277.4 256.6 L278.2 256.5 L279.1 256.4 L279.9 256.4 L280.8 256.3 L281.6 256.2 L282.5 256.1 L283.4 256.0 L284.2 255.9 L285.1 255.8 L285.9 255.7 L286.8 255.6 L287.7 255.5 L288.5 255.4 L289.4 255.3 L290.2 255.2 L291.1 255.1 L292.0 255.0 L292.8 254.9 L293.7 254.8 L294.5 254.7 L295.4 254.6 L296.3 254.5 L297.1 254.4 L298.0 254.3 L298.9 254.3 L299.7 254.2 L300.6 254.1 L301.4 254.0 L302.3 253.9 L303.2 253.8 L304.0 253.7 L304.9 253.6 L305.8 253.5 L306.6 253.4 L307.5 253.3 L308.4 253.2 L309.2 253.1 L310.1 253.0 L310.9 252.9 L311.8 252.8 L312.7 252.7 L313.5 252.6 L314.4 252.5 L315.3 252.4 L316.1 252.3 L317.0 252.2 L317.9 252.2 L318.7 252.1 L319.6 252.0 L320.5 251.9 L321.3 251.8 L322.2 251.7 L323.0 251.6 L323.9 251.5 L324.8 251.4 L325.6 251.3 L326.5 251.2 L327.4 251.1 L328.2 251.1 L329.1 251.0 L330.0 250.9 L330.8 250.8 L331.7 250.7 L332.6 250.6 L333.4 250.5 L334.3 250.4 L335.2 250.3 L336.0 250.3 L336.9 250.2 L337.8 250.1 L338.6 250.0 L339.5 249.9 L340.4 249.8 L341.2 249.8 L342.1 249.7 L342.9 249.6 L343.8 249.5 L344.7 249.4 L345.5 249.4 L346.4 249.3 L347.3 249.2 L348.1 249.1 L349.0 249.1 L349.9 249.0 L350.7 248.9 L351.6 248.8 L352.5 248.8 L353.3 248.7 L354.2 248.6 L355.0 248.5 L355.9 248.5 L356.8 248.4 L357.6 248.3 L358.5 248.3 L359.4 248.2 L360.2 248.1 L361.1 248.1 L361.9 248.0 L362.8 247.9 L363.7 247.9 L364.5 247.8 L365.4 247.8 L366.3 247.7 L367.1 247.6 L368.0 247.6 L368.8 247.5 L369.7 247.5 L370.6 247.4 L371.4 247.4 L372.3 247.3" stroke="#0000ff" stroke-width="1.85" fill="none" stroke-linejoin="round"/>
<rect x="116.40" y="220.82" width="7" height="7" fill="#0000ff"/>
<rect x="139.90" y="250.80" width="7" height="7" fill="#0000ff"/>
<rect x="163.10" y="260.38" width="7" height="7" fill="#0000ff"/>
<rect x="186.90" y="262.63" width="7" height="7" fill="#0000ff"/>
<rect x="210.30" y="260.99" width="7" height="7" fill="#0000ff"/>
<rect x="233.60" y="257.87" width="7" height="7" fill="#0000ff"/>
<rect x="256.90" y="255.01" width="7" height="7" fill="#0000ff"/>
<rect x="280.30" y="252.43" width="7" height="7" fill="#0000ff"/>
<rect x="303.60" y="249.83" width="7" height="7" fill="#0000ff"/>
<rect x="326.80" y="247.34" width="7" height="7" fill="#0000ff"/>
<rect x="350.20" y="245.15" width="7" height="7" fill="#0000ff"/>
</g>
<g clip-path="url(#cpc)">
<path d="M127.0 302.9 L127.2 303.7 L127.4 304.5 L127.6 305.2 L127.8 306.0 L128.0 306.8 L128.2 307.6 L128.4 308.3 L128.6 309.1 L128.8 309.9 L129.0 310.7 L129.2 311.5 L129.4 312.2 L129.6 313.0 L129.8 313.8 L130.0 314.6 L130.2 315.4 L130.4 316.1 L130.6 316.9 L130.8 317.7 L131.0 318.5 L131.2 319.3 L131.4 320.0 L131.6 320.8 L131.8 321.6 L132.0 322.4 L132.2 323.2 L132.4 323.9 L132.7 324.7 L132.9 325.5 L133.1 326.3 L133.3 327.1 L133.5 327.8 L133.7 328.6 L133.9 329.4 L134.1 330.2 L134.3 330.9 L134.6 331.7 L134.8 332.5 L135.0 333.3 L135.2 334.0 L135.4 334.8 L135.7 335.6 L135.9 336.3 L136.1 337.1 L136.4 337.9 L136.6 338.7 L136.8 339.4 L137.1 340.2 L137.3 341.0 L137.5 341.7 L137.8 342.5 L138.0 343.3 L138.3 344.0 L138.5 344.8 L138.8 345.6 L139.0 346.3 L139.3 347.1 L139.5 347.8 L139.8 348.6 L140.0 349.4 L140.3 350.1 L140.6 350.9 L140.8 351.6 L141.1 352.4 L141.4 353.1 L141.7 353.9 L141.9 354.6 L142.2 355.4 L142.5 356.2 L142.8 356.9 L143.1 357.6 L143.4 358.4 L143.7 359.1 L144.0 359.9 L144.3 360.6 L144.6 361.4 L144.9 362.1 L145.2 362.9 L145.5 363.6 L145.8 364.3 L146.2 365.1 L146.5 365.8 L146.8 366.5 L147.2 367.3 L147.5 368.0 L147.8 368.7 L148.2 369.5 L148.5 370.2 L148.9 370.9 L149.2 371.6 L149.6 372.4 L149.9 373.1 L150.3 373.8 L150.7 374.5 L151.0 375.2 L151.4 375.9 L151.8 376.7 L152.2 377.4 L152.6 378.1 L153.0 378.8 L153.3 379.5 L153.7 380.2 L154.1 380.9 L154.5 381.6 L154.9 382.3 L155.4 383.0 L155.8 383.7 L156.2 384.4 L156.6 385.1 L157.0 385.8 L157.5 386.5 L157.9 387.2 L158.3 387.9 L158.8 388.5 L159.2 389.2 L159.7 389.9 L160.1 390.6 L160.6 391.2 L161.0 391.9 L161.5 392.6 L162.0 393.2 L162.4 393.9 L162.9 394.6 L163.4 395.2 L163.9 395.9 L164.4 396.5 L164.9 397.1 L165.4 397.8 L165.9 398.4 L166.4 399.0 L166.9 399.7 L167.4 400.3 L167.9 400.9 L168.4 401.5 L169.0 402.1 L169.5 402.7 L170.1 403.3 L170.6 403.9 L171.2 404.5 L171.7 405.1 L172.3 405.7 L172.8 406.3 L173.4 406.8 L174.0 407.4 L174.6 408.0 L175.2 408.5 L175.8 409.1 L176.4 409.6 L177.0 410.2 L177.6 410.7 L178.2 411.2 L178.8 411.7 L179.4 412.3 L180.1 412.8 L180.7 413.3 L181.4 413.8 L182.0 414.3 L182.6 414.7 L183.3 415.2 L184.0 415.7 L184.6 416.2 L185.3 416.6 L186.0 417.1 L186.6 417.5 L187.3 418.0 L188.0 418.4 L188.7 418.8 L189.4 419.2 L190.1 419.7 L190.8 420.1 L191.5 420.5 L192.2 420.9 L192.9 421.2 L193.6 421.6 L194.3 422.0 L195.0 422.3 L195.7 422.7 L196.5 423.1 L197.2 423.4 L197.9 423.7 L198.7 424.0 L199.4 424.4 L200.1 424.7 L200.9 425.0 L201.6 425.3 L202.3 425.6 L203.1 425.8 L203.8 426.1 L204.6 426.4 L205.3 426.6 L206.1 426.9 L206.9 427.1 L207.6 427.4 L208.4 427.6 L209.1 427.8 L209.9 428.0 L210.7 428.3 L211.4 428.5 L212.2 428.7 L213.0 428.9 L213.8 429.0 L214.5 429.2 L215.3 429.4 L216.1 429.6 L216.9 429.7 L217.7 429.9 L218.4 430.0 L219.2 430.2 L220.0 430.3 L220.8 430.5 L221.6 430.6 L222.4 430.7 L223.2 430.8 L224.0 430.9 L224.8 431.1 L225.6 431.2 L226.4 431.3 L227.2 431.3 L228.0 431.4 L228.8 431.5 L229.6 431.6 L230.4 431.7 L231.2 431.7 L232.0 431.8 L232.8 431.9 L233.6 431.9 L234.4 432.0 L235.2 432.0 L236.0 432.1 L236.8 432.1 L237.6 432.2 L238.5 432.2 L239.3 432.2 L240.1 432.2 L240.9 432.3 L241.7 432.3 L242.5 432.3 L243.3 432.3 L244.1 432.3 L245.0 432.3 L245.8 432.3 L246.6 432.3 L247.4 432.3 L248.2 432.3 L249.0 432.3 L249.8 432.3 L250.7 432.3 L251.5 432.3 L252.3 432.2 L253.1 432.2 L253.9 432.2 L254.7 432.2 L255.5 432.1 L256.3 432.1 L257.2 432.1 L258.0 432.0 L258.8 432.0 L259.6 432.0 L260.4 431.9 L261.2 431.9 L262.0 431.8 L262.8 431.8 L263.6 431.7 L264.4 431.7 L265.3 431.6 L266.1 431.6 L266.9 431.5 L267.7 431.5 L268.5 431.4 L269.3 431.4 L270.1 431.3 L270.9 431.3 L271.7 431.2 L272.5 431.1 L273.3 431.1 L274.1 431.0 L274.9 430.9 L275.7 430.9 L276.5 430.8 L277.3 430.7 L278.1 430.7 L278.9 430.6 L279.7 430.5 L280.5 430.4 L281.3 430.4 L282.1 430.3 L282.9 430.2 L283.7 430.1 L284.5 430.1 L285.3 430.0 L286.1 429.9 L286.8 429.8 L287.6 429.7 L288.4 429.7 L289.2 429.6 L290.0 429.5 L290.8 429.4 L291.6 429.3 L292.4 429.2 L293.2 429.1 L294.0 429.1 L294.8 429.0 L295.6 428.9 L296.4 428.8 L297.2 428.7 L298.0 428.6 L298.8 428.5 L299.6 428.4 L300.4 428.3 L301.2 428.2 L302.0 428.1 L302.8 428.1 L303.6 428.0 L304.3 427.9 L305.1 427.8 L305.9 427.7 L306.7 427.6 L307.5 427.5 L308.3 427.4 L309.1 427.3 L309.9 427.2 L310.7 427.1 L311.5 427.0 L312.3 426.9 L313.1 426.8 L313.9 426.7 L314.7 426.6 L315.5 426.5 L316.3 426.4 L317.1 426.3 L317.9 426.2 L318.7 426.1 L319.5 426.0 L320.3 425.9 L321.1 425.8 L321.9 425.7 L322.7 425.6 L323.5 425.5 L324.3 425.4 L325.1 425.3 L325.9 425.3 L326.7 425.2 L327.5 425.1 L328.3 425.0 L329.1 424.9 L329.9 424.8 L330.7 424.7 L331.5 424.6 L332.3 424.5 L333.1 424.4 L333.9 424.3 L334.7 424.2 L335.5 424.1 L336.3 424.0 L337.1 423.9 L337.9 423.8 L338.7 423.7 L339.5 423.6 L340.3 423.5 L341.1 423.4 L341.9 423.3 L342.7 423.2 L343.5 423.1 L344.3 423.0 L345.1 422.9 L345.9 422.8 L346.7 422.7 L347.5 422.6 L348.3 422.5 L349.2 422.4 L350.0 422.3 L350.8 422.2 L351.6 422.1 L352.4 422.0 L353.2 421.9 L354.0 421.8 L354.7 421.7 L355.5 421.6 L356.3 421.5 L357.1 421.4 L357.9 421.3 L358.7 421.3 L359.5 421.2 L360.3 421.1 L361.1 421.0 L361.9 420.9 L362.7 420.8 L363.5 420.7 L364.3 420.6 L365.1 420.5 L365.9 420.4 L366.7 420.3 L367.5 420.2 L368.3 420.2 L369.1 420.1 L369.9 420.0 L370.7 419.9 L371.5 419.8 L372.3 419.7" stroke="#ff0000" stroke-width="1.85" fill="none" stroke-linejoin="round"/>
<circle cx="132.40" cy="323.77" r="3.7" fill="#ff0000"/>
<circle cx="154.00" cy="380.67" r="3.7" fill="#ff0000"/>
<circle cx="175.60" cy="408.92" r="3.7" fill="#ff0000"/>
<circle cx="197.60" cy="423.58" r="3.7" fill="#ff0000"/>
<circle cx="218.60" cy="430.07" r="3.7" fill="#ff0000"/>
<circle cx="240.60" cy="432.26" r="3.7" fill="#ff0000"/>
<circle cx="261.90" cy="431.84" r="3.7" fill="#ff0000"/>
<circle cx="283.30" cy="430.17" r="3.7" fill="#ff0000"/>
<circle cx="305.40" cy="427.74" r="3.7" fill="#ff0000"/>
<circle cx="326.60" cy="425.17" r="3.7" fill="#ff0000"/>
<circle cx="348.50" cy="422.48" r="3.7" fill="#ff0000"/>
<circle cx="370.20" cy="419.94" r="3.7" fill="#ff0000"/>
<path d="M102.5 302.9 L102.6 303.8 L102.7 304.7 L102.8 305.6 L102.9 306.5 L103.0 307.4 L103.1 308.3 L103.3 309.2 L103.4 310.1 L103.5 311.0 L103.6 311.9 L103.7 312.8 L103.9 313.7 L104.0 314.6 L104.1 315.5 L104.3 316.4 L104.4 317.3 L104.5 318.2 L104.7 319.1 L104.8 320.0 L105.0 320.9 L105.1 321.8 L105.3 322.7 L105.5 323.6 L105.6 324.5 L105.8 325.4 L106.0 326.2 L106.2 327.1 L106.4 328.0 L106.6 328.9 L106.8 329.8 L107.0 330.7 L107.2 331.6 L107.4 332.4 L107.6 333.3 L107.9 334.2 L108.1 335.1 L108.3 336.0 L108.6 336.8 L108.8 337.7 L109.1 338.6 L109.3 339.5 L109.6 340.3 L109.8 341.2 L110.1 342.1 L110.3 342.9 L110.6 343.8 L110.9 344.7 L111.1 345.6 L111.4 346.4 L111.6 347.3 L111.9 348.2 L112.1 349.0 L112.4 349.9 L112.6 350.8 L112.9 351.7 L113.1 352.5 L113.4 353.4 L113.6 354.3 L113.9 355.2 L114.1 356.0 L114.3 356.9 L114.6 357.8 L114.8 358.6 L115.1 359.5 L115.3 360.4 L115.6 361.3 L115.8 362.1 L116.0 363.0 L116.3 363.9 L116.5 364.7 L116.8 365.6 L117.0 366.5 L117.3 367.3 L117.6 368.2 L117.8 369.1 L118.1 369.9 L118.3 370.8 L118.6 371.7 L118.9 372.5 L119.1 373.4 L119.4 374.3 L119.7 375.1 L120.0 376.0 L120.2 376.9 L120.5 377.7 L120.8 378.6 L121.1 379.4 L121.4 380.3 L121.7 381.2 L122.0 382.0 L122.4 382.9 L122.7 383.7 L123.0 384.6 L123.3 385.4 L123.7 386.3 L124.0 387.1 L124.3 388.0 L124.7 388.8 L125.0 389.7 L125.4 390.5 L125.8 391.3 L126.1 392.2 L126.5 393.0 L126.9 393.8 L127.3 394.7 L127.6 395.5 L128.0 396.3 L128.4 397.1 L128.9 397.9 L129.3 398.8 L129.7 399.6 L130.1 400.4 L130.5 401.2 L131.0 402.0 L131.4 402.8 L131.9 403.6 L132.3 404.4 L132.8 405.1 L133.2 405.9 L133.7 406.7 L134.2 407.5 L134.7 408.2 L135.2 409.0 L135.7 409.8 L136.2 410.5 L136.7 411.3 L137.2 412.0 L137.7 412.7 L138.3 413.5 L138.8 414.2 L139.3 414.9 L139.9 415.7 L140.5 416.4 L141.0 417.1 L141.6 417.8 L142.2 418.5 L142.8 419.2 L143.4 419.9 L144.0 420.5 L144.6 421.2 L145.2 421.9 L145.8 422.5 L146.5 423.2 L147.1 423.8 L147.8 424.5 L148.4 425.1 L149.1 425.7 L149.8 426.3 L150.5 426.9 L151.2 427.5 L151.9 428.1 L152.6 428.7 L153.3 429.2 L154.1 429.7 L154.8 430.3 L155.6 430.8 L156.3 431.2 L157.1 431.7 L157.9 432.2 L158.7 432.6 L159.5 433.0 L160.3 433.5 L161.1 433.9 L162.0 434.2 L162.8 434.6 L163.6 435.0 L164.5 435.3 L165.3 435.6 L166.2 436.0 L167.0 436.3 L167.9 436.6 L168.8 436.9 L169.6 437.1 L170.5 437.4 L171.4 437.6 L172.3 437.9 L173.2 438.1 L174.1 438.3 L174.9 438.5 L175.8 438.7 L176.7 438.9 L177.6 439.1 L178.5 439.2 L179.4 439.4 L180.3 439.5 L181.2 439.7 L182.1 439.8 L183.0 439.9 L183.9 440.0 L184.8 440.1 L185.7 440.2 L186.6 440.3 L187.5 440.4 L188.4 440.5 L189.3 440.5 L190.2 440.6 L191.1 440.6 L192.0 440.7 L192.9 440.7 L193.8 440.7 L194.7 440.7 L195.6 440.7 L196.5 440.7 L197.4 440.7 L198.3 440.7 L199.2 440.7 L200.1 440.7 L201.0 440.6 L201.9 440.6 L202.8 440.5 L203.7 440.5 L204.6 440.4 L205.5 440.4 L206.4 440.3 L207.3 440.2 L208.2 440.2 L209.1 440.1 L210.0 440.0 L210.9 439.9 L211.8 439.8 L212.7 439.7 L213.7 439.6 L214.6 439.5 L215.5 439.4 L216.4 439.3 L217.3 439.1 L218.2 439.0 L219.1 438.9 L220.0 438.8 L220.9 438.6 L221.8 438.5 L222.7 438.4 L223.6 438.2 L224.5 438.1 L225.4 437.9 L226.3 437.8 L227.2 437.6 L228.1 437.5 L229.0 437.3 L229.9 437.2 L230.8 437.0 L231.8 436.9 L232.7 436.7 L233.6 436.6 L234.5 436.4 L235.4 436.2 L236.3 436.1 L237.2 435.9 L238.1 435.8 L239.0 435.6 L239.9 435.4 L240.8 435.3 L241.7 435.1 L242.6 434.9 L243.4 434.8 L244.3 434.6 L245.2 434.5 L246.1 434.3 L247.0 434.1 L247.9 434.0 L248.8 433.8 L249.7 433.7 L250.6 433.5 L251.5 433.3 L252.4 433.2 L253.3 433.0 L254.2 432.9 L255.1 432.7 L256.0 432.6 L256.9 432.4 L257.7 432.2 L258.6 432.1 L259.5 431.9 L260.4 431.8 L261.3 431.6 L262.2 431.5 L263.1 431.3 L264.0 431.1 L264.9 431.0 L265.8 430.8 L266.7 430.7 L267.5 430.5 L268.4 430.3 L269.3 430.2 L270.2 430.0 L271.1 429.9 L272.0 429.7 L272.9 429.6 L273.8 429.4 L274.7 429.2 L275.5 429.1 L276.4 428.9 L277.3 428.8 L278.2 428.6 L279.1 428.5 L280.0 428.3 L280.9 428.1 L281.8 428.0 L282.7 427.8 L283.6 427.7 L284.4 427.5 L285.3 427.3 L286.2 427.2 L287.1 427.0 L288.0 426.9 L288.9 426.7 L289.8 426.6 L290.7 426.4 L291.6 426.2 L292.5 426.1 L293.4 425.9 L294.3 425.8 L295.2 425.6 L296.0 425.4 L296.9 425.3 L297.8 425.1 L298.7 425.0 L299.6 424.8 L300.5 424.6 L301.4 424.5 L302.3 424.3 L303.2 424.2 L304.1 424.0 L305.0 423.8 L305.9 423.7 L306.8 423.5 L307.7 423.4 L308.6 423.2 L309.5 423.0 L310.4 422.9 L311.3 422.7 L312.2 422.6 L313.1 422.4 L314.0 422.3 L314.8 422.1 L315.7 421.9 L316.6 421.8 L317.5 421.6 L318.4 421.5 L319.3 421.3 L320.2 421.2 L321.1 421.0 L322.0 420.9 L322.9 420.7 L323.8 420.6 L324.7 420.4 L325.6 420.2 L326.5 420.1 L327.4 419.9 L328.3 419.8 L329.2 419.6 L330.1 419.5 L331.0 419.3 L331.9 419.2 L332.8 419.0 L333.7 418.9 L334.6 418.8 L335.5 418.6 L336.4 418.5 L337.3 418.3 L338.2 418.2 L339.1 418.0 L340.0 417.9 L340.9 417.7 L341.8 417.6 L342.7 417.5 L343.6 417.3 L344.5 417.2 L345.4 417.0 L346.3 416.9 L347.2 416.8 L348.1 416.6 L349.0 416.5 L349.9 416.4 L350.8 416.2 L351.7 416.1 L352.5 416.0 L353.4 415.8 L354.3 415.7 L355.2 415.6 L356.1 415.4 L357.0 415.3 L357.9 415.2 L358.8 415.0 L359.7 414.9 L360.6 414.8 L361.5 414.7 L362.4 414.5 L363.3 414.4 L364.2 414.3 L365.1 414.2 L366.0 414.1 L366.9 413.9 L367.8 413.8 L368.7 413.7 L369.6 413.6 L370.5 413.5 L371.4 413.4 L372.3 413.3" stroke="#008000" stroke-width="1.85" fill="none" stroke-linejoin="round"/>
<path d="M110.60 338.93L115.30 347.13H105.90Z" fill="#008000"/>
<path d="M132.40 399.61L137.10 407.81H127.70Z" fill="#008000"/>
<path d="M154.00 424.80L158.70 433.00H149.30Z" fill="#008000"/>
<path d="M175.60 433.76L180.30 441.96H170.90Z" fill="#008000"/>
<path d="M197.00 435.82L201.70 444.02H192.30Z" fill="#008000"/>
<path d="M218.60 434.07L223.30 442.27H213.90Z" fill="#008000"/>
<path d="M240.60 430.40L245.30 438.60H235.90Z" fill="#008000"/>
<path d="M261.90 426.60L266.60 434.80H257.20Z" fill="#008000"/>
<path d="M283.30 422.81L288.00 431.01H278.60Z" fill="#008000"/>
<path d="M305.40 418.87L310.10 427.07H300.70Z" fill="#008000"/>
<path d="M326.60 415.18L331.30 423.38H321.90Z" fill="#008000"/>
<path d="M348.50 411.66L353.20 419.86H343.80Z" fill="#008000"/>
<path d="M369.80 408.68L374.50 416.88H365.10Z" fill="#008000"/>
<path d="M83.2 302.9 L83.3 303.8 L83.4 304.8 L83.5 305.8 L83.7 306.8 L83.8 307.7 L83.9 308.7 L84.0 309.7 L84.2 310.6 L84.3 311.6 L84.4 312.6 L84.5 313.5 L84.7 314.5 L84.8 315.5 L84.9 316.4 L85.1 317.4 L85.2 318.4 L85.3 319.3 L85.5 320.3 L85.6 321.2 L85.8 322.2 L85.9 323.2 L86.1 324.1 L86.2 325.1 L86.4 326.0 L86.5 327.0 L86.7 328.0 L86.8 328.9 L87.0 329.9 L87.1 330.8 L87.3 331.8 L87.4 332.8 L87.6 333.7 L87.8 334.7 L87.9 335.6 L88.1 336.6 L88.3 337.5 L88.4 338.5 L88.6 339.4 L88.8 340.4 L89.0 341.4 L89.1 342.3 L89.3 343.3 L89.5 344.2 L89.7 345.2 L89.9 346.1 L90.1 347.1 L90.2 348.0 L90.4 349.0 L90.6 349.9 L90.8 350.9 L91.0 351.8 L91.2 352.8 L91.4 353.7 L91.6 354.6 L91.8 355.6 L92.1 356.5 L92.3 357.5 L92.5 358.4 L92.7 359.4 L92.9 360.3 L93.1 361.3 L93.4 362.2 L93.6 363.1 L93.8 364.1 L94.1 365.0 L94.3 366.0 L94.5 366.9 L94.8 367.8 L95.0 368.8 L95.3 369.7 L95.5 370.7 L95.8 371.6 L96.0 372.5 L96.3 373.5 L96.5 374.4 L96.8 375.3 L97.1 376.3 L97.3 377.2 L97.6 378.2 L97.9 379.1 L98.2 380.0 L98.4 381.0 L98.7 381.9 L99.0 382.8 L99.3 383.7 L99.6 384.7 L99.9 385.6 L100.2 386.5 L100.5 387.5 L100.8 388.4 L101.1 389.3 L101.4 390.3 L101.7 391.2 L102.1 392.1 L102.4 393.0 L102.7 394.0 L103.0 394.9 L103.4 395.8 L103.7 396.7 L104.1 397.6 L104.4 398.6 L104.8 399.5 L105.2 400.4 L105.5 401.3 L105.9 402.2 L106.3 403.1 L106.7 404.0 L107.1 404.9 L107.5 405.7 L107.9 406.6 L108.3 407.5 L108.8 408.4 L109.2 409.2 L109.7 410.1 L110.1 410.9 L110.6 411.8 L111.1 412.6 L111.6 413.5 L112.1 414.3 L112.6 415.1 L113.1 415.9 L113.7 416.7 L114.2 417.5 L114.8 418.3 L115.3 419.1 L115.9 419.8 L116.5 420.6 L117.2 421.4 L117.8 422.1 L118.4 422.8 L119.1 423.6 L119.8 424.3 L120.4 425.0 L121.1 425.7 L121.9 426.3 L122.6 427.0 L123.3 427.6 L124.1 428.3 L124.9 428.9 L125.7 429.5 L126.5 430.1 L127.3 430.6 L128.1 431.2 L128.9 431.7 L129.8 432.1 L130.6 432.6 L131.5 433.0 L132.4 433.4 L133.2 433.8 L134.1 434.2 L135.0 434.5 L135.9 434.8 L136.8 435.1 L137.7 435.4 L138.6 435.7 L139.6 435.9 L140.5 436.1 L141.4 436.4 L142.4 436.5 L143.3 436.7 L144.3 436.9 L145.2 437.0 L146.2 437.1 L147.2 437.2 L148.1 437.3 L149.1 437.4 L150.1 437.5 L151.0 437.5 L152.0 437.6 L153.0 437.6 L154.0 437.6 L155.0 437.6 L155.9 437.6 L156.9 437.6 L157.9 437.6 L158.9 437.6 L159.9 437.5 L160.8 437.5 L161.8 437.4 L162.8 437.4 L163.8 437.3 L164.8 437.2 L165.7 437.2 L166.7 437.1 L167.7 437.0 L168.6 436.9 L169.6 436.8 L170.6 436.7 L171.5 436.5 L172.5 436.4 L173.5 436.3 L174.4 436.1 L175.4 436.0 L176.4 435.9 L177.3 435.7 L178.3 435.6 L179.2 435.4 L180.2 435.2 L181.2 435.1 L182.1 434.9 L183.1 434.7 L184.0 434.5 L185.0 434.3 L185.9 434.2 L186.9 434.0 L187.8 433.8 L188.8 433.6 L189.7 433.4 L190.7 433.2 L191.6 433.0 L192.6 432.7 L193.5 432.5 L194.5 432.3 L195.4 432.1 L196.4 431.9 L197.3 431.7 L198.3 431.4 L199.2 431.2 L200.1 431.0 L201.1 430.7 L202.0 430.5 L203.0 430.3 L203.9 430.0 L204.9 429.8 L205.8 429.6 L206.8 429.3 L207.7 429.1 L208.6 428.9 L209.6 428.6 L210.5 428.4 L211.5 428.1 L212.4 427.9 L213.3 427.7 L214.3 427.4 L215.2 427.2 L216.2 426.9 L217.1 426.7 L218.1 426.5 L219.0 426.2 L220.0 426.0 L220.9 425.8 L221.8 425.5 L222.8 425.3 L223.7 425.1 L224.7 424.9 L225.6 424.6 L226.6 424.4 L227.5 424.2 L228.5 424.0 L229.4 423.7 L230.4 423.5 L231.3 423.3 L232.2 423.1 L233.2 422.9 L234.1 422.6 L235.1 422.4 L236.0 422.2 L237.0 422.0 L237.9 421.8 L238.9 421.6 L239.8 421.4 L240.8 421.2 L241.7 421.0 L242.7 420.8 L243.6 420.6 L244.6 420.4 L245.5 420.2 L246.5 420.0 L247.4 419.8 L248.4 419.6 L249.3 419.4 L250.3 419.2 L251.2 419.0 L252.2 418.8 L253.1 418.6 L254.1 418.4 L255.0 418.2 L256.0 418.0 L257.0 417.8 L257.9 417.6 L258.9 417.5 L259.8 417.3 L260.8 417.1 L261.7 416.9 L262.7 416.7 L263.6 416.5 L264.6 416.4 L265.5 416.2 L266.5 416.0 L267.4 415.8 L268.4 415.6 L269.4 415.5 L270.3 415.3 L271.3 415.1 L272.2 414.9 L273.2 414.8 L274.1 414.6 L275.1 414.4 L276.1 414.2 L277.0 414.1 L278.0 413.9 L278.9 413.7 L279.9 413.6 L280.8 413.4 L281.8 413.2 L282.8 413.1 L283.7 412.9 L284.7 412.7 L285.6 412.6 L286.6 412.4 L287.5 412.3 L288.5 412.1 L289.5 411.9 L290.4 411.8 L291.4 411.6 L292.3 411.5 L293.3 411.3 L294.3 411.2 L295.2 411.0 L296.2 410.8 L297.1 410.7 L298.1 410.5 L299.0 410.4 L300.0 410.2 L301.0 410.1 L301.9 409.9 L302.9 409.8 L303.8 409.6 L304.8 409.5 L305.8 409.3 L306.7 409.2 L307.7 409.0 L308.7 408.9 L309.6 408.8 L310.6 408.6 L311.5 408.5 L312.5 408.3 L313.5 408.2 L314.4 408.0 L315.4 407.9 L316.3 407.8 L317.3 407.6 L318.3 407.5 L319.2 407.4 L320.2 407.2 L321.2 407.1 L322.1 407.0 L323.1 406.8 L324.0 406.7 L325.0 406.6 L326.0 406.4 L326.9 406.3 L327.9 406.2 L328.9 406.0 L329.8 405.9 L330.8 405.8 L331.7 405.7 L332.7 405.5 L333.7 405.4 L334.6 405.3 L335.6 405.2 L336.6 405.0 L337.5 404.9 L338.5 404.8 L339.5 404.7 L340.4 404.6 L341.4 404.4 L342.4 404.3 L343.3 404.2 L344.3 404.1 L345.2 404.0 L346.2 403.9 L347.2 403.7 L348.1 403.6 L349.1 403.5 L350.1 403.4 L351.0 403.3 L352.0 403.2 L353.0 403.1 L353.9 403.0 L354.9 402.9 L355.9 402.8 L356.8 402.7 L357.8 402.6 L358.8 402.4 L359.7 402.3 L360.7 402.2 L361.7 402.1 L362.6 402.0 L363.6 401.9 L364.6 401.8 L365.5 401.7 L366.5 401.6 L367.5 401.5 L368.4 401.5 L369.4 401.4 L370.4 401.3 L371.3 401.2 L372.3 401.1" stroke="#0000ff" stroke-width="1.85" fill="none" stroke-linejoin="round"/>
<rect x="98.10" y="387.25" width="7" height="7" fill="#0000ff"/>
<rect x="118.00" y="422.48" width="7" height="7" fill="#0000ff"/>
<rect x="138.00" y="432.87" width="7" height="7" fill="#0000ff"/>
<rect x="158.10" y="433.95" width="7" height="7" fill="#0000ff"/>
<rect x="177.80" y="431.54" width="7" height="7" fill="#0000ff"/>
<rect x="197.20" y="427.34" width="7" height="7" fill="#0000ff"/>
<rect x="217.40" y="422.27" width="7" height="7" fill="#0000ff"/>
<rect x="237.10" y="417.71" width="7" height="7" fill="#0000ff"/>
<rect x="256.80" y="413.67" width="7" height="7" fill="#0000ff"/>
<rect x="276.70" y="410.02" width="7" height="7" fill="#0000ff"/>
<rect x="296.70" y="406.70" width="7" height="7" fill="#0000ff"/>
<rect x="316.30" y="403.78" width="7" height="7" fill="#0000ff"/>
<rect x="335.60" y="401.22" width="7" height="7" fill="#0000ff"/>
<rect x="355.70" y="398.90" width="7" height="7" fill="#0000ff"/>
</g>
<rect x="70.45" y="1.9" width="301.7" height="451.75" fill="none" stroke="#000" stroke-width="1.45"/>
<path d="M70.45 152.5H372.15" stroke="#000" stroke-width="1.15" fill="none"/>
<path d="M70.45 303.5H372.15" stroke="#000" stroke-width="1.15" fill="none"/>
<text x="65.6" y="23.35" text-anchor="end" font-size="18" font-family="Liberation Serif, serif">1.0</text>
<text x="65.6" y="53.45" text-anchor="end" font-size="18" font-family="Liberation Serif, serif">0.5</text>
<text x="65.6" y="83.55" text-anchor="end" font-size="18" font-family="Liberation Serif, serif">0</text>
<text x="65.6" y="113.65" text-anchor="end" font-size="18" font-family="Liberation Serif, serif">-0.5</text>
<text x="65.6" y="143.75" text-anchor="end" font-size="18" font-family="Liberation Serif, serif">-1.0</text>
<text x="65.6" y="173.90" text-anchor="end" font-size="18" font-family="Liberation Serif, serif">1.0</text>
<text x="65.6" y="204.00" text-anchor="end" font-size="18" font-family="Liberation Serif, serif">0.5</text>
<text x="65.6" y="234.10" text-anchor="end" font-size="18" font-family="Liberation Serif, serif">0</text>
<text x="65.6" y="264.20" text-anchor="end" font-size="18" font-family="Liberation Serif, serif">-0.5</text>
<text x="65.6" y="294.30" text-anchor="end" font-size="18" font-family="Liberation Serif, serif">-1.0</text>
<text x="65.6" y="324.85" text-anchor="end" font-size="18" font-family="Liberation Serif, serif">1.0</text>
<text x="65.6" y="354.95" text-anchor="end" font-size="18" font-family="Liberation Serif, serif">0.5</text>
<text x="65.6" y="385.05" text-anchor="end" font-size="18" font-family="Liberation Serif, serif">0</text>
<text x="65.6" y="415.15" text-anchor="end" font-size="18" font-family="Liberation Serif, serif">-0.5</text>
<text x="65.6" y="445.25" text-anchor="end" font-size="18" font-family="Liberation Serif, serif">-1.0</text>
<text x="70.90" y="472.2" text-anchor="middle" font-size="18" font-family="Liberation Serif, serif">2</text>
<text x="108.59" y="472.2" text-anchor="middle" font-size="18" font-family="Liberation Serif, serif">3</text>
<text x="146.28" y="472.2" text-anchor="middle" font-size="18" font-family="Liberation Serif, serif">4</text>
<text x="183.97" y="472.2" text-anchor="middle" font-size="18" font-family="Liberation Serif, serif">5</text>
<text x="221.66" y="472.2" text-anchor="middle" font-size="18" font-family="Liberation Serif, serif">6</text>
<text x="259.35" y="472.2" text-anchor="middle" font-size="18" font-family="Liberation Serif, serif">7</text>
<text x="297.04" y="472.2" text-anchor="middle" font-size="18" font-family="Liberation Serif, serif">8</text>
<text x="334.73" y="472.2" text-anchor="middle" font-size="18" font-family="Liberation Serif, serif">9</text>
<text x="372.42" y="472.2" text-anchor="middle" font-size="18" font-family="Liberation Serif, serif">10</text>
<text x="221.3" y="490.2" text-anchor="middle" font-size="18.4" font-family="Liberation Sans, sans-serif">Frequency, THz</text>
<text x="79.7" y="28" font-size="18.7" font-family="Liberation Sans, sans-serif">(a)</text>
<text x="76.8" y="187" font-size="18.7" font-family="Liberation Sans, sans-serif">(b)</text>
<text x="76.8" y="431.6" font-size="18.7" font-family="Liberation Sans, sans-serif">(c)</text>
<text x="210.10" y="24.7" font-size="17.5" font-family="Liberation Serif, serif">κ</text>
<text x="223.10" y="24.7" font-size="16.7" font-family="Liberation Sans, sans-serif">=</text>
<text x="238.40" y="24.7" font-size="16.7" font-family="Liberation Sans, sans-serif">10</text>
<text x="209.40" y="45.599999999999994" font-size="17.5" font-style="italic" font-family="Liberation Serif, serif">D</text>
<text x="225.80" y="45.599999999999994" font-size="16.7" font-family="Liberation Sans, sans-serif">=</text>
<text x="240.80" y="45.599999999999994" font-size="16.7" font-family="Liberation Sans, sans-serif">20</text>
<text x="170.30" y="174.7" font-size="17.5" font-family="Liberation Serif, serif">κ</text>
<text x="183.30" y="174.7" font-size="16.7" font-family="Liberation Sans, sans-serif">=</text>
<text x="198.60" y="174.7" font-size="16.7" font-family="Liberation Sans, sans-serif">15</text>
<text x="169.60" y="195.6" font-size="17.5" font-style="italic" font-family="Liberation Serif, serif">D</text>
<text x="186.00" y="195.6" font-size="16.7" font-family="Liberation Sans, sans-serif">=</text>
<text x="201.00" y="195.6" font-size="16.7" font-family="Liberation Sans, sans-serif">20</text>
<text x="171.60" y="327.6" font-size="17.5" font-family="Liberation Serif, serif">κ</text>
<text x="184.60" y="327.6" font-size="16.7" font-family="Liberation Sans, sans-serif">=</text>
<text x="199.90" y="327.6" font-size="16.7" font-family="Liberation Sans, sans-serif">20</text>
<text x="169.80" y="345.65000000000003" font-size="17.5" font-style="italic" font-family="Liberation Serif, serif">D</text>
<text x="186.20" y="345.65000000000003" font-size="16.7" font-family="Liberation Sans, sans-serif">=</text>
<text x="201.20" y="345.65000000000003" font-size="16.7" font-family="Liberation Sans, sans-serif">20</text>
<rect x="241.0" y="162.45" width="117.85" height="57.65" fill="#fff" stroke="#000" stroke-width="1"/>
<path d="M250.4 173.6H270.5" stroke="#ff0000" stroke-width="1.85"/>
<circle cx="250.40" cy="173.60" r="3.7" fill="#ff0000"/>
<circle cx="270.50" cy="173.60" r="3.7" fill="#ff0000"/>
<text x="354.0" y="179.90" text-anchor="end" font-size="16.7" font-family="Liberation Sans, sans-serif">10 nm</text>
<path d="M250.4 190.95H270.5" stroke="#008000" stroke-width="1.85"/>
<path d="M250.40 186.05L255.10 194.25H245.70Z" fill="#008000"/>
<path d="M270.50 186.05L275.20 194.25H265.80Z" fill="#008000"/>
<text x="354.0" y="197.25" text-anchor="end" font-size="16.7" font-family="Liberation Sans, sans-serif">15 nm</text>
<path d="M250.4 208.3H270.5" stroke="#0000ff" stroke-width="1.85"/>
<rect x="246.90" y="204.80" width="7" height="7" fill="#0000ff"/>
<rect x="267.00" y="204.80" width="7" height="7" fill="#0000ff"/>
<text x="354.0" y="214.60" text-anchor="end" font-size="16.7" font-family="Liberation Sans, sans-serif">25 nm</text>
<text x="279.0" y="180.3" font-size="18" font-style="italic" font-family="Liberation Serif, serif">d</text>
<text x="292.3" y="180.7" font-size="16.7" font-family="Liberation Sans, sans-serif">=</text>
<g transform="translate(21.3,313) rotate(-90)">
<text x="-1.4" y="0" font-size="18" font-family="Liberation Sans, sans-serif">Re</text>
<text x="28.9" y="0.4" font-size="18.5" font-family="Liberation Sans, sans-serif">σ</text>
<text x="41.0" y="-11.2" font-size="13.5" font-style="italic" font-family="Liberation Serif, serif">intra</text>
<text x="41.4" y="7.5" font-size="12.7" font-style="italic" font-family="Liberation Serif, serif">ind</text>
<text x="77.4" y="1.5" font-size="18" text-anchor="middle" font-family="Liberation Sans, sans-serif">+</text>
<text x="88.1" y="0.4" font-size="18.5" font-family="Liberation Sans, sans-serif">σ</text>
<text x="101.5" y="-11.2" font-size="12.9" font-style="italic" font-family="Liberation Serif, serif">inter</text>
<text x="99.2" y="7.5" font-size="12.7" font-style="italic" font-family="Liberation Serif, serif">ind</text>
<path d="M28.0 -16.5Q18.80 -6.10 28.0 4.3Q20.60 -6.10 28.0 -16.5Z" fill="#000" stroke="#000" stroke-width="0.5" stroke-linejoin="round"/>
<path d="M126.7 -15Q135.90 -5.50 126.7 4Q134.10 -5.50 126.7 -15Z" fill="#000" stroke="#000" stroke-width="0.5" stroke-linejoin="round"/>
<text x="134" y="0" font-size="18" font-family="Liberation Sans, sans-serif">, a.u.</text>
</g>
</svg>
</body></html>
